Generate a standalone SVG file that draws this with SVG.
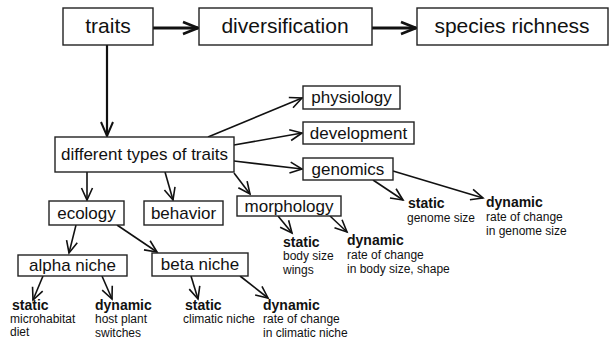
<svg xmlns="http://www.w3.org/2000/svg" width="613" height="343" viewBox="0 0 613 343">
<defs>
<style>
.box{fill:#fff;stroke:#222;stroke-width:1.4}
.big{font-family:"Liberation Sans",Arial,sans-serif;font-size:21px;fill:#111;text-anchor:middle}
.mid{font-family:"Liberation Sans",Arial,sans-serif;font-size:17px;fill:#111;text-anchor:middle}
.b{font-family:"Liberation Sans",Arial,sans-serif;font-size:14px;font-weight:bold;fill:#111}
.s{font-family:"Liberation Sans",Arial,sans-serif;font-size:12px;fill:#111}
.c{fill:none;stroke:#111;stroke-width:1.6;marker-end:url(#ah)}
.c2{fill:none;stroke:#111;stroke-width:2.2;marker-end:url(#ah2)}
.c3{fill:none;stroke:#111;stroke-width:3;marker-end:url(#ah3)}
</style>
<marker id="ah" markerUnits="userSpaceOnUse" markerWidth="16" markerHeight="14" refX="13" refY="7" orient="auto" viewBox="0 0 16 14">
<path d="M1,1.5 L13,7 L1,12.5" fill="none" stroke="#111" stroke-width="1.6"/>
</marker>
<marker id="ah2" markerUnits="userSpaceOnUse" markerWidth="18" markerHeight="16" refX="15" refY="8" orient="auto" viewBox="0 0 18 16">
<path d="M1,2 L15,8 L1,14" fill="none" stroke="#111" stroke-width="2"/>
</marker>
<marker id="ah3" markerUnits="userSpaceOnUse" markerWidth="20" markerHeight="16" refX="17" refY="8" orient="auto" viewBox="0 0 20 16">
<path d="M2,2 L17,8 L2,14" fill="none" stroke="#111" stroke-width="2.6"/>
</marker>
</defs>
<g id="connectors">
<line class="c3" x1="153" y1="28" x2="198" y2="28"/>
<line class="c3" x1="372" y1="28" x2="416" y2="28"/>
<line class="c2" x1="107" y1="45" x2="107" y2="136"/>
<line class="c" x1="208" y1="137" x2="302" y2="98"/>
<line class="c" x1="234" y1="145" x2="302" y2="133"/>
<line class="c" x1="234" y1="161" x2="302" y2="169"/>
<line class="c" x1="234" y1="173" x2="250" y2="194"/>
<line class="c" x1="87" y1="172" x2="87" y2="200"/>
<line class="c" x1="165" y1="172" x2="173" y2="200"/>
<line class="c" x1="76" y1="225" x2="69" y2="253"/>
<line class="c" x1="117" y1="225" x2="157" y2="252"/>
<line class="c" x1="43" y1="276" x2="33" y2="300"/>
<line class="c" x1="102" y1="276" x2="112" y2="299"/>
<line class="c" x1="191" y1="276" x2="198" y2="299"/>
<line class="c" x1="240" y1="276" x2="268" y2="298"/>
<line class="c" x1="278" y1="216" x2="292" y2="233"/>
<line class="c" x1="330" y1="216" x2="347" y2="232"/>
<line class="c" x1="373" y1="180" x2="403" y2="200"/>
<line class="c" x1="393" y1="171" x2="483" y2="198"/>
</g>
<g id="traits"><rect class="box" x="63" y="8" width="90" height="37"/><text class="big" x="108" y="33">traits</text></g>
<g id="diversification"><rect class="box" x="199" y="8" width="173" height="37"/><text class="big" x="285" y="33">diversification</text></g>
<g id="species-richness"><rect class="box" x="417" y="8" width="191" height="37"/><text class="big" x="512" y="33">species richness</text></g>
<g id="different-types"><rect class="box" x="55" y="137" width="179" height="35"/><text class="mid" x="144.5" y="160">different types of traits</text></g>
<g id="physiology"><rect class="box" x="303" y="86" width="97" height="23"/><text class="mid" x="351.5" y="103">physiology</text></g>
<g id="development"><rect class="box" x="303" y="122" width="111" height="22"/><text class="mid" x="358.5" y="139">development</text></g>
<g id="genomics"><rect class="box" x="303" y="158" width="90" height="22"/><text class="mid" x="348" y="175">genomics</text></g>
<g id="ecology"><rect class="box" x="49" y="201" width="75" height="24"/><text class="mid" x="86.5" y="219">ecology</text></g>
<g id="behavior"><rect class="box" x="144" y="201" width="79" height="24"/><text class="mid" x="183.5" y="219">behavior</text></g>
<g id="morphology"><rect class="box" x="237" y="196" width="104" height="20"/><text class="mid" x="289" y="212">morphology</text></g>
<g id="alpha-niche"><rect class="box" x="18" y="255" width="109" height="21"/><text class="mid" x="72.5" y="271">alpha niche</text></g>
<g id="beta-niche"><rect class="box" x="152" y="253" width="96" height="23"/><text class="mid" x="200" y="270">beta niche</text></g>
<g id="alpha-static"><text class="b" x="12" y="310">static</text><text class="s" x="10" y="323">microhabitat</text><text class="s" x="10" y="336">diet</text></g>
<g id="alpha-dynamic"><text class="b" x="95" y="310">dynamic</text><text class="s" x="95" y="323">host plant</text><text class="s" x="95" y="337">switches</text></g>
<g id="beta-static"><text class="b" x="185" y="310">static</text><text class="s" x="183" y="323">climatic niche</text></g>
<g id="beta-dynamic"><text class="b" x="263" y="310">dynamic</text><text class="s" x="263" y="323">rate of change</text><text class="s" x="263" y="337">in climatic niche</text></g>
<g id="morph-static"><text class="b" x="283" y="247">static</text><text class="s" x="283" y="260">body size</text><text class="s" x="283" y="274">wings</text></g>
<g id="morph-dynamic"><text class="b" x="347" y="245">dynamic</text><text class="s" x="347" y="259">rate of change</text><text class="s" x="347" y="273">in body size, shape</text></g>
<g id="genome-static"><text class="b" x="408" y="208">static</text><text class="s" x="407" y="222">genome size</text></g>
<g id="genome-dynamic"><text class="b" x="486" y="207">dynamic</text><text class="s" x="486" y="221">rate of change</text><text class="s" x="486" y="235">in genome size</text></g>
</svg>
